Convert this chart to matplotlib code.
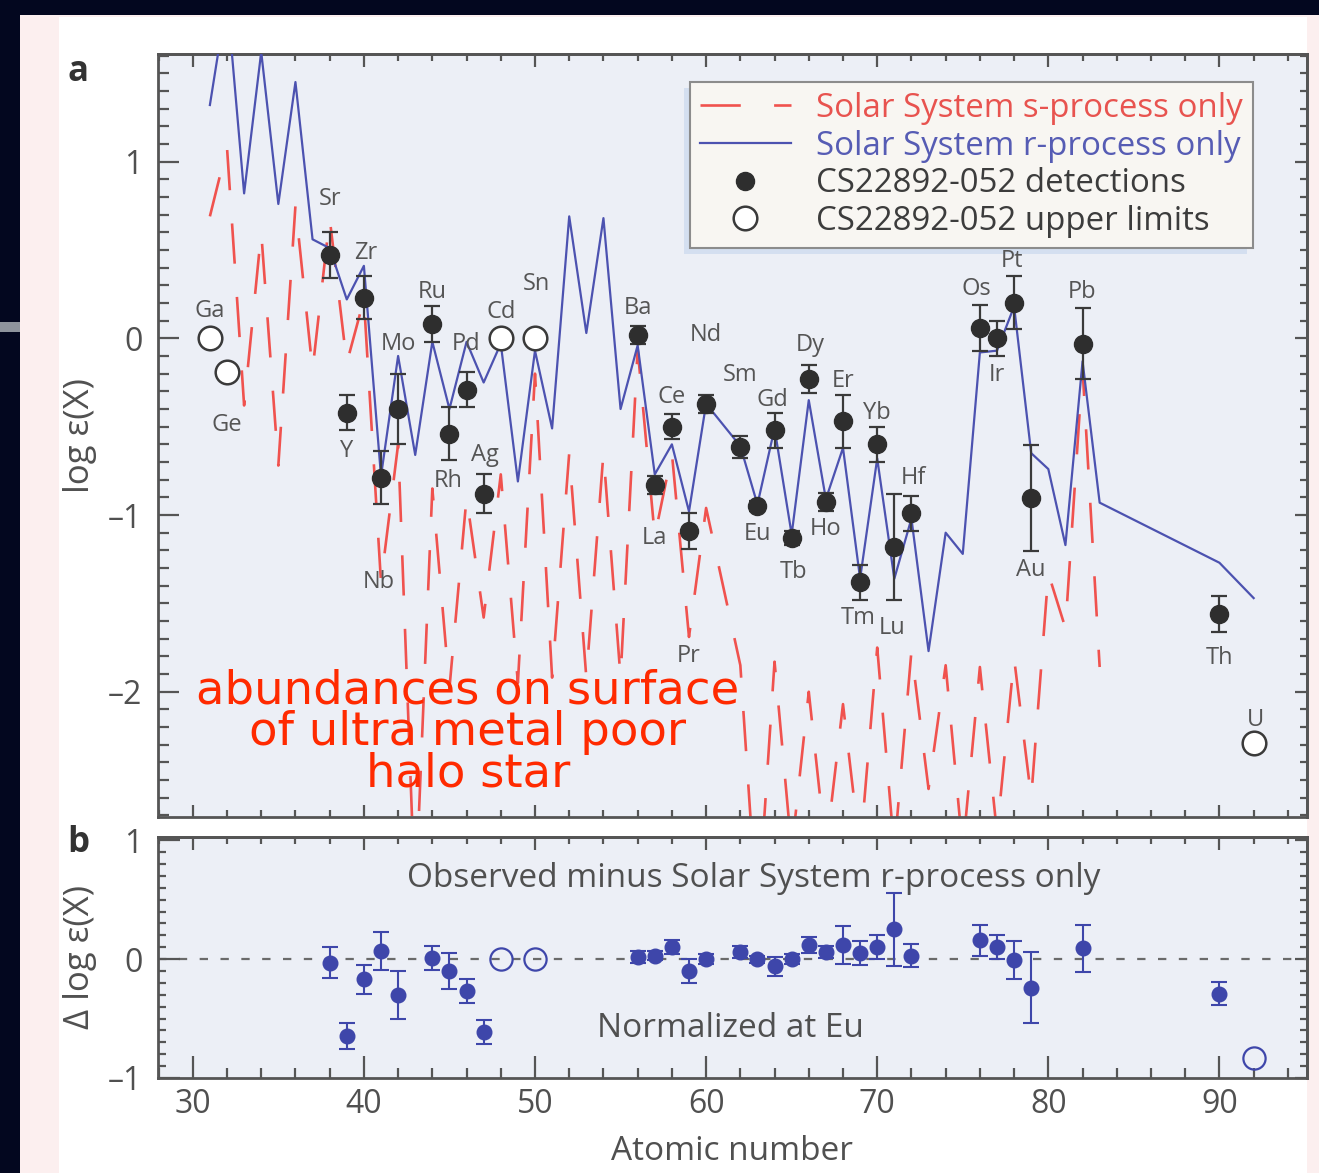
import matplotlib
matplotlib.use("Agg")
import matplotlib.pyplot as plt
from matplotlib.lines import Line2D
from matplotlib.patches import Rectangle
from matplotlib.ticker import MultipleLocator, FuncFormatter
from matplotlib.transforms import IdentityTransform

plt.rcParams["font.family"] = ["Open Sans", "DejaVu Sans"]
plt.rcParams["axes.unicode_minus"] = False
plt.rcParams["lines.scale_dashes"] = False

# --- solar system r-process curve (Pm skipped) ---
r_z = [31, 32, 33, 34, 35, 36, 37, 38, 39, 40, 41, 42, 43, 44, 45, 46, 47, 48, 49, 50,
       51, 52, 53, 54, 55, 56, 57, 58, 59, 60, 62, 63, 64, 65, 66, 67, 68, 69, 70, 71,
       72, 73, 74, 75, 76, 77, 78, 79, 80, 81, 82, 83, 90, 92]
r_val = [1.32, 1.93, 0.82, 1.62, 0.76, 1.45, 0.56, 0.51, 0.22, 0.41, -0.78, -0.10, -0.66,
         -0.02, -0.40, -0.02, -0.25, -0.03, -0.81, -0.07, -0.51, 0.69, 0.03, 0.68, -0.40,
         -0.04, -0.77, -0.60, -0.98, -0.37, -0.61, -0.94, -0.51, -1.11, -0.35, -0.91,
         -0.62, -1.36, -0.68, -1.36, -1.02, -1.77, -1.10, -1.22, -0.08, -0.07, 0.18,
         -0.65, -0.74, -1.17, -0.13, -0.93, -1.27, -1.47]

# --- solar system s-process curve ---
s_z = [31, 32, 33, 34, 35, 36, 37, 38, 39, 40, 41, 42, 43, 44, 45, 46, 47, 48, 49, 50,
       51, 52, 53, 54, 55, 56, 57, 58, 59, 60, 62, 63, 64, 65, 66, 67, 68, 69, 70, 71,
       72, 73, 74, 75, 76, 77, 78, 79, 80, 81, 82, 83]
s_val = [0.69, 1.08, -0.38, 0.60, -0.72, 0.75, -0.18, 0.68, -0.14, 0.22, -1.38, -0.60,
         -3.2, -0.85, -1.98, -0.90, -1.58, -0.77, -1.95, -0.20, -1.92, -0.65, -1.92,
         -0.65, -1.92, -0.06, -1.12, -0.65, -1.69, -0.96, -1.85, -3.3, -1.83, -2.9,
         -2.0, -2.9, -2.07, -2.9, -1.75, -2.9, -1.77, -2.55, -1.85, -2.9, -1.86, -2.8,
         -1.81, -2.6, -1.33, -1.64, -0.17, -1.86]

# --- CS22892-052 detections ---
det_z = [38, 39, 40, 41, 42, 44, 45, 46, 47, 56, 57, 58, 59, 60, 62, 63, 64, 65, 66, 67,
         68, 69, 70, 71, 72, 76, 77, 78, 79, 82, 90]
det_val = [0.47, -0.42, 0.23, -0.79, -0.40, 0.08, -0.54, -0.29, -0.88, 0.02, -0.83,
           -0.50, -1.09, -0.37, -0.615, -0.95, -0.52, -1.13, -0.23, -0.925, -0.47,
           -1.38, -0.60, -1.18, -0.99, 0.06, 0.00, 0.20, -0.905, -0.03, -1.56]
det_err = [0.13, 0.10, 0.12, 0.15, 0.20, 0.10, 0.15, 0.10, 0.11, 0.05, 0.05, 0.07, 0.10,
           0.05, 0.065, 0.03, 0.10, 0.04, 0.08, 0.05, 0.15, 0.10, 0.10, 0.30, 0.10, 0.13,
           0.10, 0.15, 0.30, 0.20, 0.10]

# --- upper limits ---
lim_z = [31, 32, 48, 50, 92]
lim_val = [0.00, -0.19, 0.00, 0.00, -2.29]

# --- element labels ---
lab_sym = ["Ga", "Ge", "Sr", "Y", "Zr", "Nb", "Mo", "Ru", "Rh", "Pd", "Ag", "Cd", "Sn",
           "Ba", "La", "Ce", "Pr", "Nd", "Sm", "Eu", "Gd", "Tb", "Dy", "Ho", "Er", "Tm",
           "Yb", "Lu", "Hf", "Os", "Ir", "Pt", "Au", "Pb", "Th", "U"]
lab_x = [31.0, 32.0, 38.0, 39.0, 40.1, 40.9, 42.0, 44.0, 44.9, 46.0, 47.1, 48.0, 50.1,
         56.0, 57.0, 58.0, 59.0, 60.0, 62.0, 63.0, 63.9, 65.1, 66.1, 67.0, 68.0, 68.9,
         70.0, 70.9, 72.1, 75.8, 77.0, 77.9, 79.0, 82.0, 90.0, 92.1]
lab_y = [0.155, -0.49, 0.79, -0.64, 0.48, -1.38, -0.03, 0.26, -0.81, -0.03, -0.66, 0.15,
         0.31, 0.17, -1.13, -0.33, -1.80, 0.02, -0.21, -1.11, -0.35, -1.32, -0.04, -1.08,
         -0.24, -1.58, -0.42, -1.64, -0.79, 0.28, -0.21, 0.44, -1.31, 0.26, -1.81, -2.16]

# --- observed minus r-process (normalised at Eu) ---
dif_z = det_z
dif_val = [-0.03, -0.65, -0.17, 0.07, -0.30, 0.01, -0.10, -0.27, -0.61, 0.02, 0.03, 0.10,
           -0.10, 0.00, 0.06, 0.00, -0.06, 0.00, 0.12, 0.06, 0.12, 0.05, 0.10, 0.25, 0.03,
           0.16, 0.10, -0.01, -0.24, 0.09, -0.29]
dif_err = [0.13, 0.11, 0.12, 0.16, 0.20, 0.10, 0.15, 0.10, 0.10, 0.05, 0.04, 0.06, 0.10,
           0.04, 0.05, 0.03, 0.08, 0.04, 0.07, 0.05, 0.16, 0.10, 0.10, 0.31, 0.10, 0.13,
           0.10, 0.16, 0.30, 0.20, 0.10]
dif_lim_z = [48, 50, 92]
dif_lim_val = [0.00, 0.00, -0.83]

RED = "#f0524e"
BLUE = "#4c52b0"
BLUE_B = "#3e46aa"
DARK = "#2e2e2e"
GREY = "#505050"
SPINE = "#555555"
FACE = "#eceff6"

W, H = 1319, 1173
fig = plt.figure(figsize=(W / 100, H / 100), dpi=100)
fig.patch.set_facecolor("#fcefef")


def px_rect(x0, y0, x1, y1, color):
    fig.patches.append(Rectangle((x0 / W, 1 - y1 / H), (x1 - x0) / W, (y1 - y0) / H,
                                 transform=fig.transFigure, color=color, lw=0, zorder=-5))


# page framing
px_rect(59, 17, 1307, H, "#ffffff")
px_rect(0, 0, W, 15, "#03071f")
px_rect(0, 0, 20, 322, "#03071f")
px_rect(0, 322, 20, 332, "#8e939c")
px_rect(0, 332, 20, H, "#03071f")

X0, X1 = 157.7, 1306.7
ax = fig.add_axes([X0 / W, 1 - 816.7 / H, (X1 - X0) / W, (816.7 - 54.3) / H])
bx = fig.add_axes([X0 / W, 1 - 1078 / H, (X1 - X0) / W, (1078 - 836.7) / H])

XLIM = (27.95, 95.1)
TICK_FS = 23
dash_fmt = FuncFormatter(lambda v, _: f"{v:.0f}".replace("-", "–"))


def style_axes(a, ylim, left_len, bottom_len, xlabels):
    a.set_facecolor(FACE)
    a.set_xlim(*XLIM)
    a.set_ylim(*ylim)
    for sp in a.spines.values():
        sp.set_color(SPINE)
        sp.set_linewidth(2)
    a.xaxis.set_major_locator(MultipleLocator(10))
    a.xaxis.set_minor_locator(MultipleLocator(2))
    a.yaxis.set_major_locator(MultipleLocator(1))
    a.yaxis.set_minor_locator(MultipleLocator(0.1))
    a.yaxis.set_major_formatter(dash_fmt)
    a.tick_params(which="both", direction="in", color=SPINE, width=1.6,
                  top=False, right=False, labelsize=TICK_FS, labelcolor=GREY)
    a.tick_params(axis="y", which="major", length=left_len[0], pad=11)
    a.tick_params(axis="y", which="minor", length=left_len[1])
    a.tick_params(axis="x", which="major", length=bottom_len[0], pad=7)
    a.tick_params(axis="x", which="minor", length=bottom_len[1])
    if not xlabels:
        a.tick_params(axis="x", labelbottom=False)
    top = a.secondary_xaxis("top")
    top.xaxis.set_major_locator(MultipleLocator(10))
    top.xaxis.set_minor_locator(MultipleLocator(2))
    top.tick_params(which="both", direction="in", color=SPINE, width=1.6, labeltop=False)
    top.tick_params(which="major", length=9)
    top.tick_params(which="minor", length=5)
    top.spines["top"].set_color(SPINE)
    top.spines["top"].set_linewidth(2)
    right = a.secondary_yaxis("right")
    right.yaxis.set_major_locator(MultipleLocator(1))
    right.yaxis.set_minor_locator(MultipleLocator(0.1))
    right.tick_params(which="both", direction="in", color=SPINE, width=1.6, labelright=False)
    right.tick_params(which="major", length=9)
    right.tick_params(which="minor", length=5)
    right.spines["right"].set_color(SPINE)
    right.spines["right"].set_linewidth(2)


style_axes(ax, (-2.707, 1.607), (15, 8), (9, 5), False)
style_axes(bx, (-1.0, 1.03), (16, 6), (16, 7), True)

# ---------------- panel a ----------------
ax.plot(s_z, s_val, color=RED, lw=1.9, linestyle=(0, (29, 24)), zorder=2)
ax.plot(r_z, r_val, color=BLUE, lw=1.6, zorder=3)
ax.errorbar(det_z, det_val, yerr=det_err, fmt="o", ms=13, color=DARK, mec=DARK,
            ecolor="#3a3a3a", elinewidth=1.6, capsize=6, capthick=1.6, zorder=4)
ax.plot(lim_z, lim_val, "o", ms=17, mfc="white", mec="#3a3a3a", mew=1.8, zorder=4)

for sym, x, y in zip(lab_sym, lab_x, lab_y):
    ax.text(x, y, sym, ha="center", va="center", fontsize=17, color="#555555", zorder=8)

for line, yb in zip(["abundances on surface", "of ultra metal poor", "halo star"],
                    [-2.064, -2.30, -2.535]):
    ax.text(46.08, yb, line, ha="center", va="baseline", fontsize=33.5,
            color="#ff2a00", family="DejaVu Sans", zorder=6)

handles = [
    Line2D([], [], color=RED, lw=1.9, linestyle=(0, (29, 24))),
    Line2D([], [], color=BLUE, lw=1.6),
    Line2D([], [], ls="none", marker="o", ms=13, color=DARK),
    Line2D([], [], ls="none", marker="o", ms=17, mfc="white", mec="#3a3a3a", mew=1.8),
]
labels = ["Solar System s-process only", "Solar System r-process only",
          "CS22892-052 detections", "CS22892-052 upper limits"]
leg = ax.legend(handles, labels, loc="upper left", bbox_to_anchor=(0.4633, 0.9637),
                borderaxespad=0, fontsize=23.8, frameon=True, fancybox=False,
                handlelength=2.75, handletextpad=0.76, labelspacing=0.14,
                borderpad=0.3, framealpha=1)
leg.get_frame().set_facecolor("#f8f6f2")
leg.get_frame().set_edgecolor("#8c8c8c")
leg.get_frame().set_linewidth(1.5)
for t, c in zip(leg.get_texts(), ["#e8534f", "#565cb4", "#3c3c3c", "#3c3c3c"]):
    t.set_color(c)
leg.set_zorder(7)

ax.set_ylabel("log ε(X)", fontsize=25, color=GREY)
ax.yaxis.set_label_coords((80 - X0) / (X1 - X0), 0.5)
ax.yaxis.label.set_va("center")
fig.text(78 / W, 1 - 72 / H, "a", fontsize=25, fontweight="bold", color="#333333",
         ha="center", va="center")

# ---------------- panel b ----------------
bx.axhline(0, color="#6a6a6a", lw=1.6, linestyle=(0, (6, 9)), zorder=1)
bx.errorbar(dif_z, dif_val, yerr=dif_err, fmt="o", ms=10.5, color=BLUE_B, mec=BLUE_B,
            ecolor=BLUE_B, elinewidth=1.5, capsize=5.5, capthick=1.5, zorder=4)
bx.plot(dif_lim_z, dif_lim_val, "o", ms=16, mfc="none", mec=BLUE_B, mew=1.6, zorder=4)
bx.text(62.8, 0.676, "Observed minus Solar System r-process only", ha="center",
        va="center", fontsize=24, color=GREY)
bx.text(61.4, -0.58, "Normalized at Eu", ha="center", va="center", fontsize=24, color=GREY)
bx.set_ylabel("Δ log ε(X)", fontsize=25, color=GREY)
bx.yaxis.set_label_coords((80 - X0) / (X1 - X0), 0.5)
bx.yaxis.label.set_va("center")
bx.set_xlabel("Atomic number", fontsize=24, color=GREY)
bx.xaxis.set_label_coords(0.5, (1078 - 1152) / (1078 - 836.7))
bx.xaxis.label.set_va("center")
fig.text(78 / W, 1 - 843 / H, "b", fontsize=25, fontweight="bold", color="#333333",
         ha="center", va="center")

# soft shadow offset down-left of the legend box
fig.canvas.draw()
bb = leg.get_window_extent()
ax.add_patch(Rectangle((bb.x0 - 6, bb.y0 - 6), bb.width, bb.height,
                       transform=IdentityTransform(), color="#d4dff0", lw=0,
                       clip_on=False, zorder=6.5))
fig.savefig("out.png", dpi=100, facecolor=fig.get_facecolor())
